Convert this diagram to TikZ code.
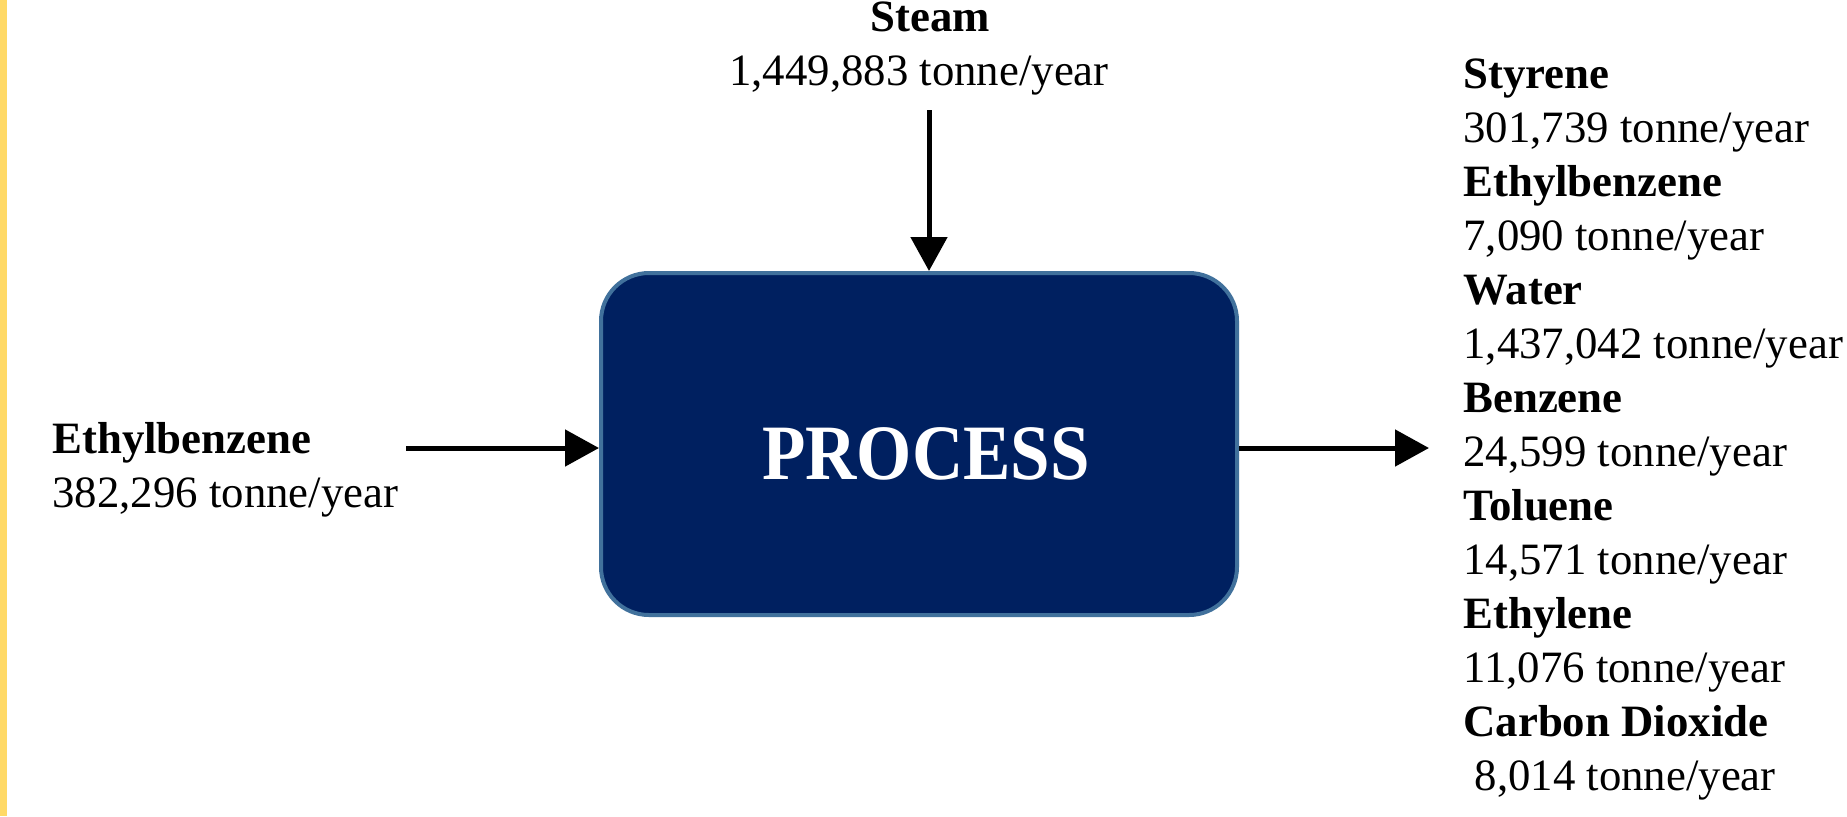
\documentclass[tikz,border=0pt]{standalone}
\usepackage{fontspec}
\setmainfont{Liberation Serif}
\usetikzlibrary{arrows.meta}
\definecolor{navyfill}{HTML}{002060}
\definecolor{boxedge}{HTML}{41719C}
\definecolor{barcol}{HTML}{FFD966}
\begin{document}
\begin{tikzpicture}[x=0.5pt,y=-0.5pt,
  flow/.style={line width=2.5pt,-{Triangle[length=17pt,width=18pt]}},
  lbl/.style={font=\fontsize{22.4}{27}\selectfont,inner sep=0pt,anchor=base west},
  lblc/.style={font=\fontsize{22.4}{27}\selectfont,inner sep=0pt,anchor=base},
  procbox/.style={draw=boxedge,line width=2pt,fill=navyfill,rounded corners=24pt,
    minimum width=318pt,minimum height=171pt,text=white,
    text height=35.4pt,text depth=0pt,
    font=\fontsize{37}{44}\selectfont\bfseries,inner sep=0pt}
]
\useasboundingbox (0,0) rectangle (1847,816);
\fill[barcol] (0,0) rectangle (7,816);

\node[procbox] (box) at (919,444) {\hspace*{7pt}\scalebox{0.96}[1.06]{PROCESS}};

% steam
\node[lblc] (steamname) at (930,31) {\textbf{Steam}};
\node[lblc] (steamflow) at (919,85) {1,449,883 tonne/year};
\coordinate (steamtop) at (929,110);
\draw[flow] (steamtop) -- (steamtop |- box.north);

% feed
\node[lbl] (feedname) at (52,453) {\textbf{Ethylbenzene}};
\node[lbl] (feedflow) at (52,507) {382,296 tonne/year};
\coordinate (feedstart) at (406,448);
\draw[flow] (feedstart) -- (feedstart -| box.west);

% products
\coordinate (prodend) at (1429,448);
\draw[flow] (prodend -| box.east) -- (prodend);

\node[lbl] (p1) at (1463,88) {\textbf{Styrene}};
\node[lbl] (p2) at (1463,142) {301,739 tonne/year};
\node[lbl] (p3) at (1463,196) {\textbf{Ethylbenzene}};
\node[lbl] (p4) at (1463,250) {7,090 tonne/year};
\node[lbl] (p5) at (1463,304) {\textbf{Water}};
\node[lbl] (p6) at (1463,358) {1,437,042 tonne/year};
\node[lbl] (p7) at (1463,412) {\textbf{Benzene}};
\node[lbl] (p8) at (1463,466) {24,599 tonne/year};
\node[lbl] (p9) at (1463,520) {\textbf{Toluene}};
\node[lbl] (p10) at (1463,574) {14,571 tonne/year};
\node[lbl] (p11) at (1463,628) {\textbf{Ethylene}};
\node[lbl] (p12) at (1463,682) {11,076 tonne/year};
\node[lbl] (p13) at (1463,736) {\textbf{Carbon Dioxide}};
\node[lbl] (p14) at (1463,790) {\hspace*{0.25em}8,014 tonne/year};
\end{tikzpicture}
\end{document}
